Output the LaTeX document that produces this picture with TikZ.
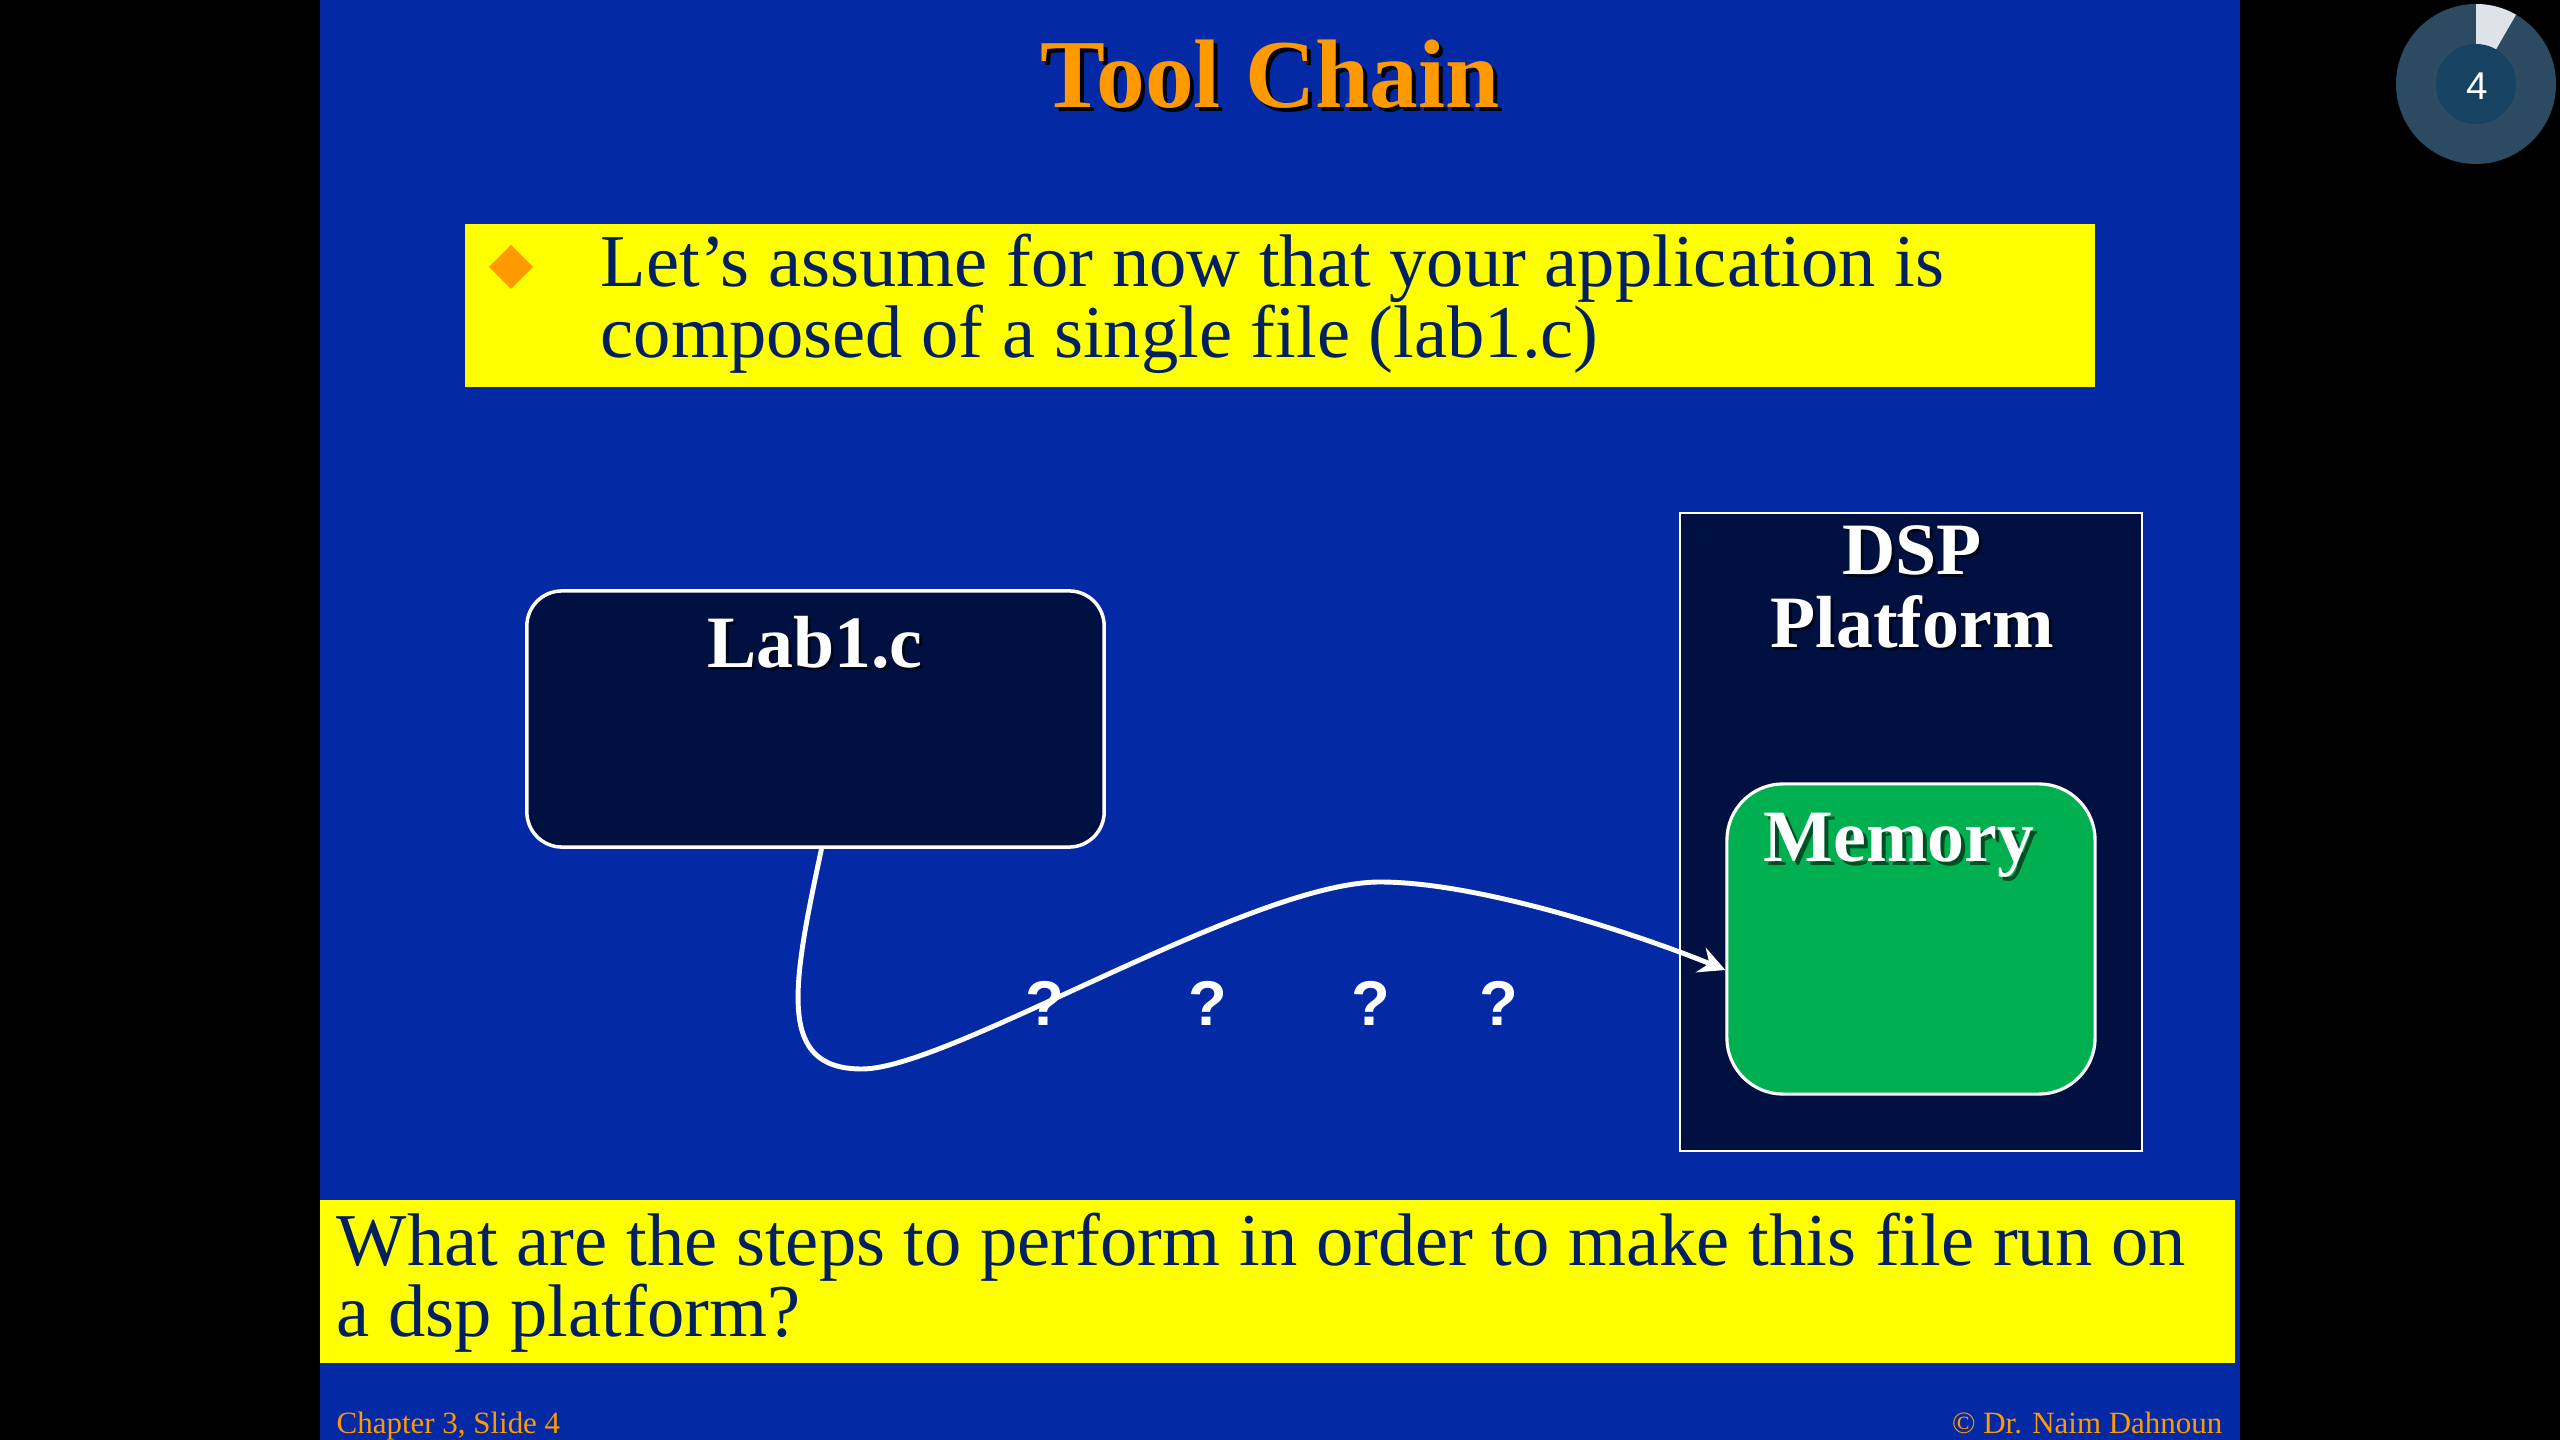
\documentclass[tikz,border=0pt]{standalone}
\usepackage{fontspec}
\setmainfont{Liberation Serif}
\newfontfamily\sansfont{Liberation Sans}
\usetikzlibrary{arrows.meta,calc}

\definecolor{slideblue}{RGB}{4,41,165}
\definecolor{hiyellow}{RGB}{255,255,0}
\definecolor{navytext}{RGB}{0,32,96}
\definecolor{boxnavy}{RGB}{0,16,64}
\definecolor{memgreen}{RGB}{0,176,80}
\definecolor{accent}{RGB}{255,153,0}
\definecolor{ringouter}{RGB}{44,75,98}
\definecolor{ringinner}{RGB}{24,66,98}
\definecolor{ringmark}{RGB}{221,227,232}

\tikzset{
  titlefont/.style={font=\fontsize{27.7}{27.7}\selectfont\bfseries, inner sep=0pt},
  boxlabel/.style={font=\fontsize{21}{20.6}\selectfont\bfseries, inner sep=0pt, text=white},
  labelshadow/.style={boxlabel, text=black, opacity=0.55},
  bodytext/.style={font=\fontsize{21.2}{20.1}\selectfont, inner sep=0pt, text=navytext, align=left},
  footnote/.style={font=\fontsize{8.8}{8.8}\selectfont, inner sep=0pt, text=accent},
  qmark/.style={font=\sansfont\bfseries\fontsize{18}{18}\selectfont, inner sep=0pt, text=white, anchor=base},
  filebox/.style={draw=white, line width=1pt, fill=boxnavy, rounded corners=10pt, inner sep=0pt},
  platformbox/.style={draw=white, line width=0.7pt, fill=boxnavy, inner sep=0pt},
  memorybox/.style={draw=white, line width=0.9pt, fill=memgreen, rounded corners=16pt, inner sep=0pt},
  flow/.style={draw=white, line width=1.4pt, -{Stealth[length=7.5pt, width=7.5pt, inset=2.6pt]}},
}

\begin{document}
\begin{tikzpicture}[x=0.01cm, y=-0.01cm]
  \useasboundingbox (0,0) rectangle (2560,1440);
  % page and slide area
  \fill[black] (0,0) rectangle (2560,1440);
  \fill[slideblue] (320,0) rectangle (2240,1440);

  % title with drop shadow
  \node[titlefont, text=black, anchor=base] (titleshadow) at (1274,112) {Tool Chain};
  \node[titlefont, text=accent, anchor=base] (title) at (1270,108) {Tool Chain};

  % highlighted bullet
  \fill[hiyellow] (465,224) rectangle (2095,387);
  \fill[accent] (511,245) -- (533,267) -- (511,289) -- (489,267) -- cycle;
  \node[bodytext, anchor=base west] (bullet1) at (600,287) {Let's assume for now that your application is};
  \node[bodytext, anchor=base west] (bullet2) at (600,358) {composed of a single file (lab1.c)};

  % source file
  \node[filebox, minimum width=5.77cm, minimum height=2.56cm] (lab) at (815.5,719) {};
  \node[labelshadow, anchor=base] (labshadow) at (818,671) {Lab1.c};
  \node[boxlabel, anchor=base] (labtitle) at (815,668) {Lab1.c};

  % target platform
  \node[platformbox, minimum width=4.62cm, minimum height=6.38cm] (dsp) at (1911,832) {};
  \node[labelshadow, anchor=base] (dspshadow1) at (1915,578) {DSP};
  \node[boxlabel, anchor=base] (dsptitle1) at (1912,575) {DSP};
  \node[labelshadow, anchor=base] (dspshadow2) at (1915,651) {Platform};
  \node[boxlabel, anchor=base] (dsptitle2) at (1912,648) {Platform};

  \node[memorybox, minimum width=3.68cm, minimum height=3.10cm] (mem) at (1911,939) {};
  \node[labelshadow, anchor=base west] (memshadow) at (1767,866) {Memory};
  \node[boxlabel, anchor=base west] (memtitle) at (1763,862) {Memory};

  % the unknown route from source to memory
  \coordinate (low) at (862,1069);
  \coordinate (peak) at (1380,882);
  \path[flow] ($(lab.south)+(6,0)$) .. controls +(-30,140) and +(-85,0) .. (low)
        .. controls +(88,0) and +(-130,0) .. (peak)
        .. controls +(100,0) and +(-86,-35) .. ($(mem.west)+(0,31)$);

  \node[qmark] (q1) at (1045,1025) {?};
  \node[qmark] (q2) at (1208,1025) {?};
  \node[qmark] (q3) at (1371,1025) {?};
  \node[qmark] (q4) at (1499,1025) {?};

  % question strip
  \fill[hiyellow] (320,1200) rectangle (2235,1363);
  \node[bodytext, anchor=base west] (ask1) at (336,1265) {What are the steps to perform in order to make this file run on};
  \node[bodytext, anchor=base west] (ask2) at (336,1336) {a dsp platform?};

  % footer
  \node[footnote, anchor=base west] (chapter) at (336,1433) {Chapter 3, Slide 4};
  \node[footnote, anchor=base east] (author) at (2223,1433) {\textcopyright{} Dr. Naim Dahnoun};

  % slide counter badge (y axis points down, so angles are mirrored)
  \fill[ringouter] (2476,84) circle (80);
  \fill[ringmark] (2476,84) -- (2476,4) arc[start angle=-90, end angle=-60, radius=80] -- cycle;
  \fill[ringinner] (2476,84) circle (40);
  \node[font=\sansfont\fontsize{11}{11}\selectfont, text=white, inner sep=0pt] (slidenum) at (2477,86) {4};
\end{tikzpicture}
\end{document}
